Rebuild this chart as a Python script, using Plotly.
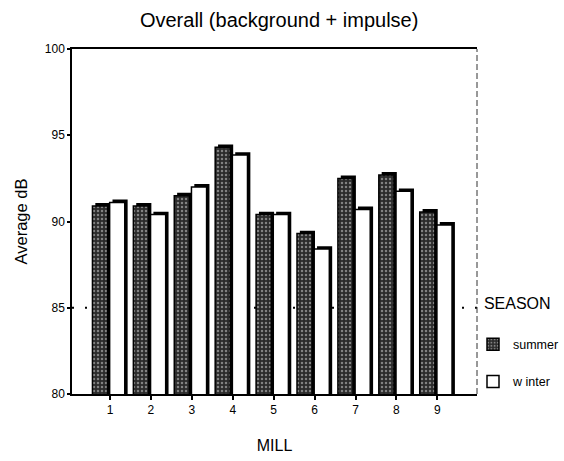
import plotly.graph_objects as go

mills = [1, 2, 3, 4, 5, 6, 7, 8, 9]
tick_labels = ["1", "2", "3", "4", "5", "6", "7", "8", "9"]
summer = [90.9, 90.9, 91.5, 94.3, 90.4, 89.3, 92.5, 92.7, 90.55]
winter = [91.1, 90.4, 92.0, 93.85, 90.4, 88.4, 90.7, 91.75, 89.8]
y_ticks = [80, 85, 90, 95, 100]
ref_level = 85

FONT = "Liberation Sans, Arial, sans-serif"
BAR_W = 0.37
SH_DX = 0.07   # 3-D side shadow offset (x units)
SH_DY = 0.17   # 3-D top shadow offset (y units)

fig = go.Figure()

def add_pair(vals, name, offset, face):
    # shadow (3-D depth)
    fig.add_trace(go.Bar(
        x=mills, y=[v + SH_DY for v in vals], offset=offset + SH_DX, width=BAR_W,
        marker=dict(color="black", line=dict(width=0)),
        showlegend=False, hoverinfo="skip", legendgroup=name))
    fig.add_trace(go.Bar(
        x=mills, y=vals, offset=offset, width=BAR_W, name=name,
        legendgroup=name, **face))

add_pair(summer, "summer", -0.43, dict(
    marker=dict(color="#2b2b2b", line=dict(color="black", width=1.5),
                pattern=dict(shape=".", fgcolor="#d8d8d8", size=4, solidity=0.3,
                             fillmode="overlay"))))
add_pair(winter, "w inter", -0.01, dict(
    marker=dict(color="white", line=dict(color="black", width=1.5))))

# dotted reference line at 85
fig.add_shape(type="line", xref="paper", yref="y", x0=0, x1=1, y0=ref_level, y1=ref_level,
              line=dict(color="black", width=2, dash="2px,11px"), layer="below")
# dashed right frame edge
fig.add_shape(type="line", xref="paper", yref="paper", x0=1, x1=1, y0=0, y1=1,
              line=dict(color="#333", width=1, dash="6px,3px"))

fig.update_layout(
    width=564, height=461,
    margin=dict(l=72, r=87, t=49, b=67, autoexpand=False),
    paper_bgcolor="white", plot_bgcolor="white",
    barmode="overlay",
    font=dict(family=FONT, color="black"),
    title=dict(text="Overall (background + impulse)", font=dict(size=20, family=FONT),
               x=0.495, xref="container", y=1 - 20 / 461, yanchor="middle", xanchor="center"),
    xaxis=dict(range=[0.07, 9.97], tickvals=mills, ticktext=tick_labels, automargin=False,
               showgrid=False, zeroline=False, showline=True, linecolor="black", linewidth=1.5,
               mirror=True, ticks="outside", ticklen=4, tickwidth=2, tickcolor="black",
               tickfont=dict(size=12, family=FONT),
               title=dict(text="MILL", font=dict(size=16, family=FONT), standoff=24)),
    yaxis=dict(range=[80, 100], tickvals=y_ticks, automargin=False,
               showgrid=False, zeroline=False, showline=True, linecolor="black", linewidth=1.5,
               ticks="outside", ticklen=3, tickwidth=2, tickcolor="black",
               tickfont=dict(size=12, family=FONT),
               title=dict(text="Average dB", font=dict(size=16.5, family=FONT), standoff=13)),
    legend=dict(xref="container", yref="container", x=473 / 564, xanchor="left",
                y=1 - 288 / 461, yanchor="top",
                title=dict(text="&nbsp;&nbsp;SEASON<br> ", font=dict(size=16, family=FONT)),
                font=dict(size=12.5, family=FONT), tracegroupgap=18,
                itemwidth=30, bgcolor="rgba(0,0,0,0)"),
)

fig.write_html("out.html", config={"displayModeBar": False},
               post_script="document.body.style.margin='0';document.body.style.overflow='hidden';")
